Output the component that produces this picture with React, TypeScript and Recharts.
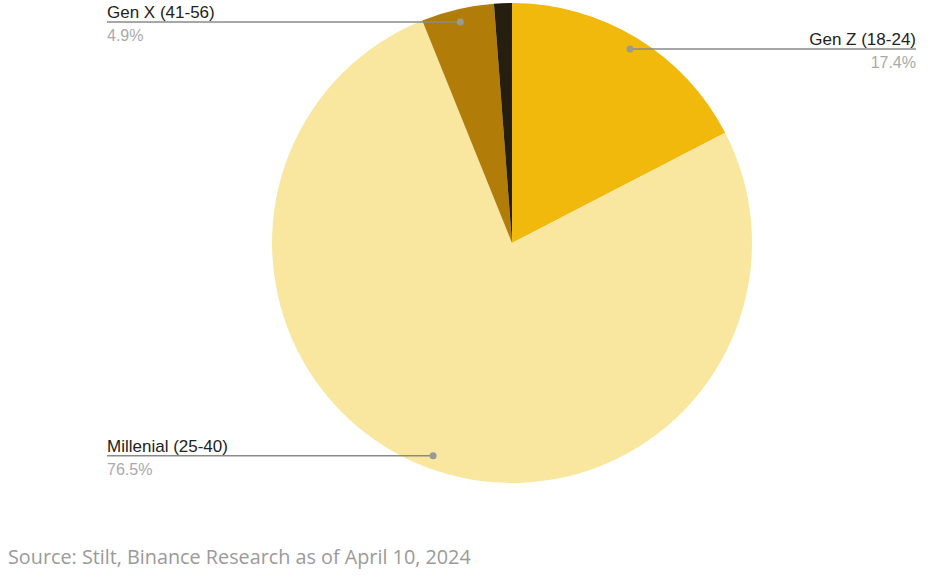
import React from 'react';
import { PieChart, Pie, Cell } from 'recharts';

// Age groups, clockwise from 12 o'clock
const groups = ['Gen Z (18-24)', 'Millenial (25-40)', 'Gen X (41-56)', 'Boomer (57+)'];
const shares = [17.4, 76.5, 4.9, 1.2];
const showLabel = [true, true, true, false];
const colors = ['#F0B90B', '#F9E79F', '#B27C08', '#261E0E'];

const sourceNote = 'Source: Stilt, Binance Research as of April 10, 2024';

const data = groups.map((name, i) => ({ name, value: shares[i] }));

const RADIAN = Math.PI / 180;

const renderLabel = (props: any) => {
  const { cx, cy, midAngle, outerRadius, index, name, value } = props;
  if (!showLabel[index]) return null;
  const r = outerRadius - 13;
  const dotX = cx + r * Math.cos(-midAngle * RADIAN);
  const dotY = cy + r * Math.sin(-midAngle * RADIAN);
  const rightSide = dotX > cx;
  const endX = rightSide ? 916 : 107;
  const anchor = rightSide ? 'end' : 'start';
  return (
    <g>
      <line x1={dotX} y1={dotY} x2={endX} y2={dotY} stroke="#8a8a8a" strokeWidth={1.5} />
      <circle cx={dotX} cy={dotY} r={3.5} fill="#999" />
      <text x={endX} y={dotY - 4} textAnchor={anchor} fontSize={17} fill="#222"
        fontFamily="'Liberation Sans', Arial, sans-serif">
        {name}
      </text>
      <text x={endX} y={dotY + 19} textAnchor={anchor} fontSize={16} fill="#aaa"
        fontFamily="'Liberation Sans', Arial, sans-serif">
        {`${value}%`}
      </text>
    </g>
  );
};

export default function App() {
  return (
    <div style={{ position: 'absolute', left: 0, top: 0, width: 947, height: 581, background: '#fff' }}>
      <PieChart width={947} height={581} margin={{ top: 0, right: 0, bottom: 0, left: 0 }}>
        <Pie
          data={data}
          dataKey="value"
          nameKey="name"
          cx={512}
          cy={243}
          outerRadius={240}
          startAngle={90}
          endAngle={-270}
          stroke="none"
          label={renderLabel}
          labelLine={false}
          isAnimationActive={false}
        >
          {data.map((d, i) => (
            <Cell key={d.name} fill={colors[i]} />
          ))}
        </Pie>
      </PieChart>
      <div style={{
        position: 'absolute', left: 8, top: 543, fontSize: 19.8, color: '#9a9a9a',
        fontFamily: "'Open Sans', 'Noto Sans', sans-serif", whiteSpace: 'nowrap',
      }}>
        {sourceNote}
      </div>
    </div>
  );
}
